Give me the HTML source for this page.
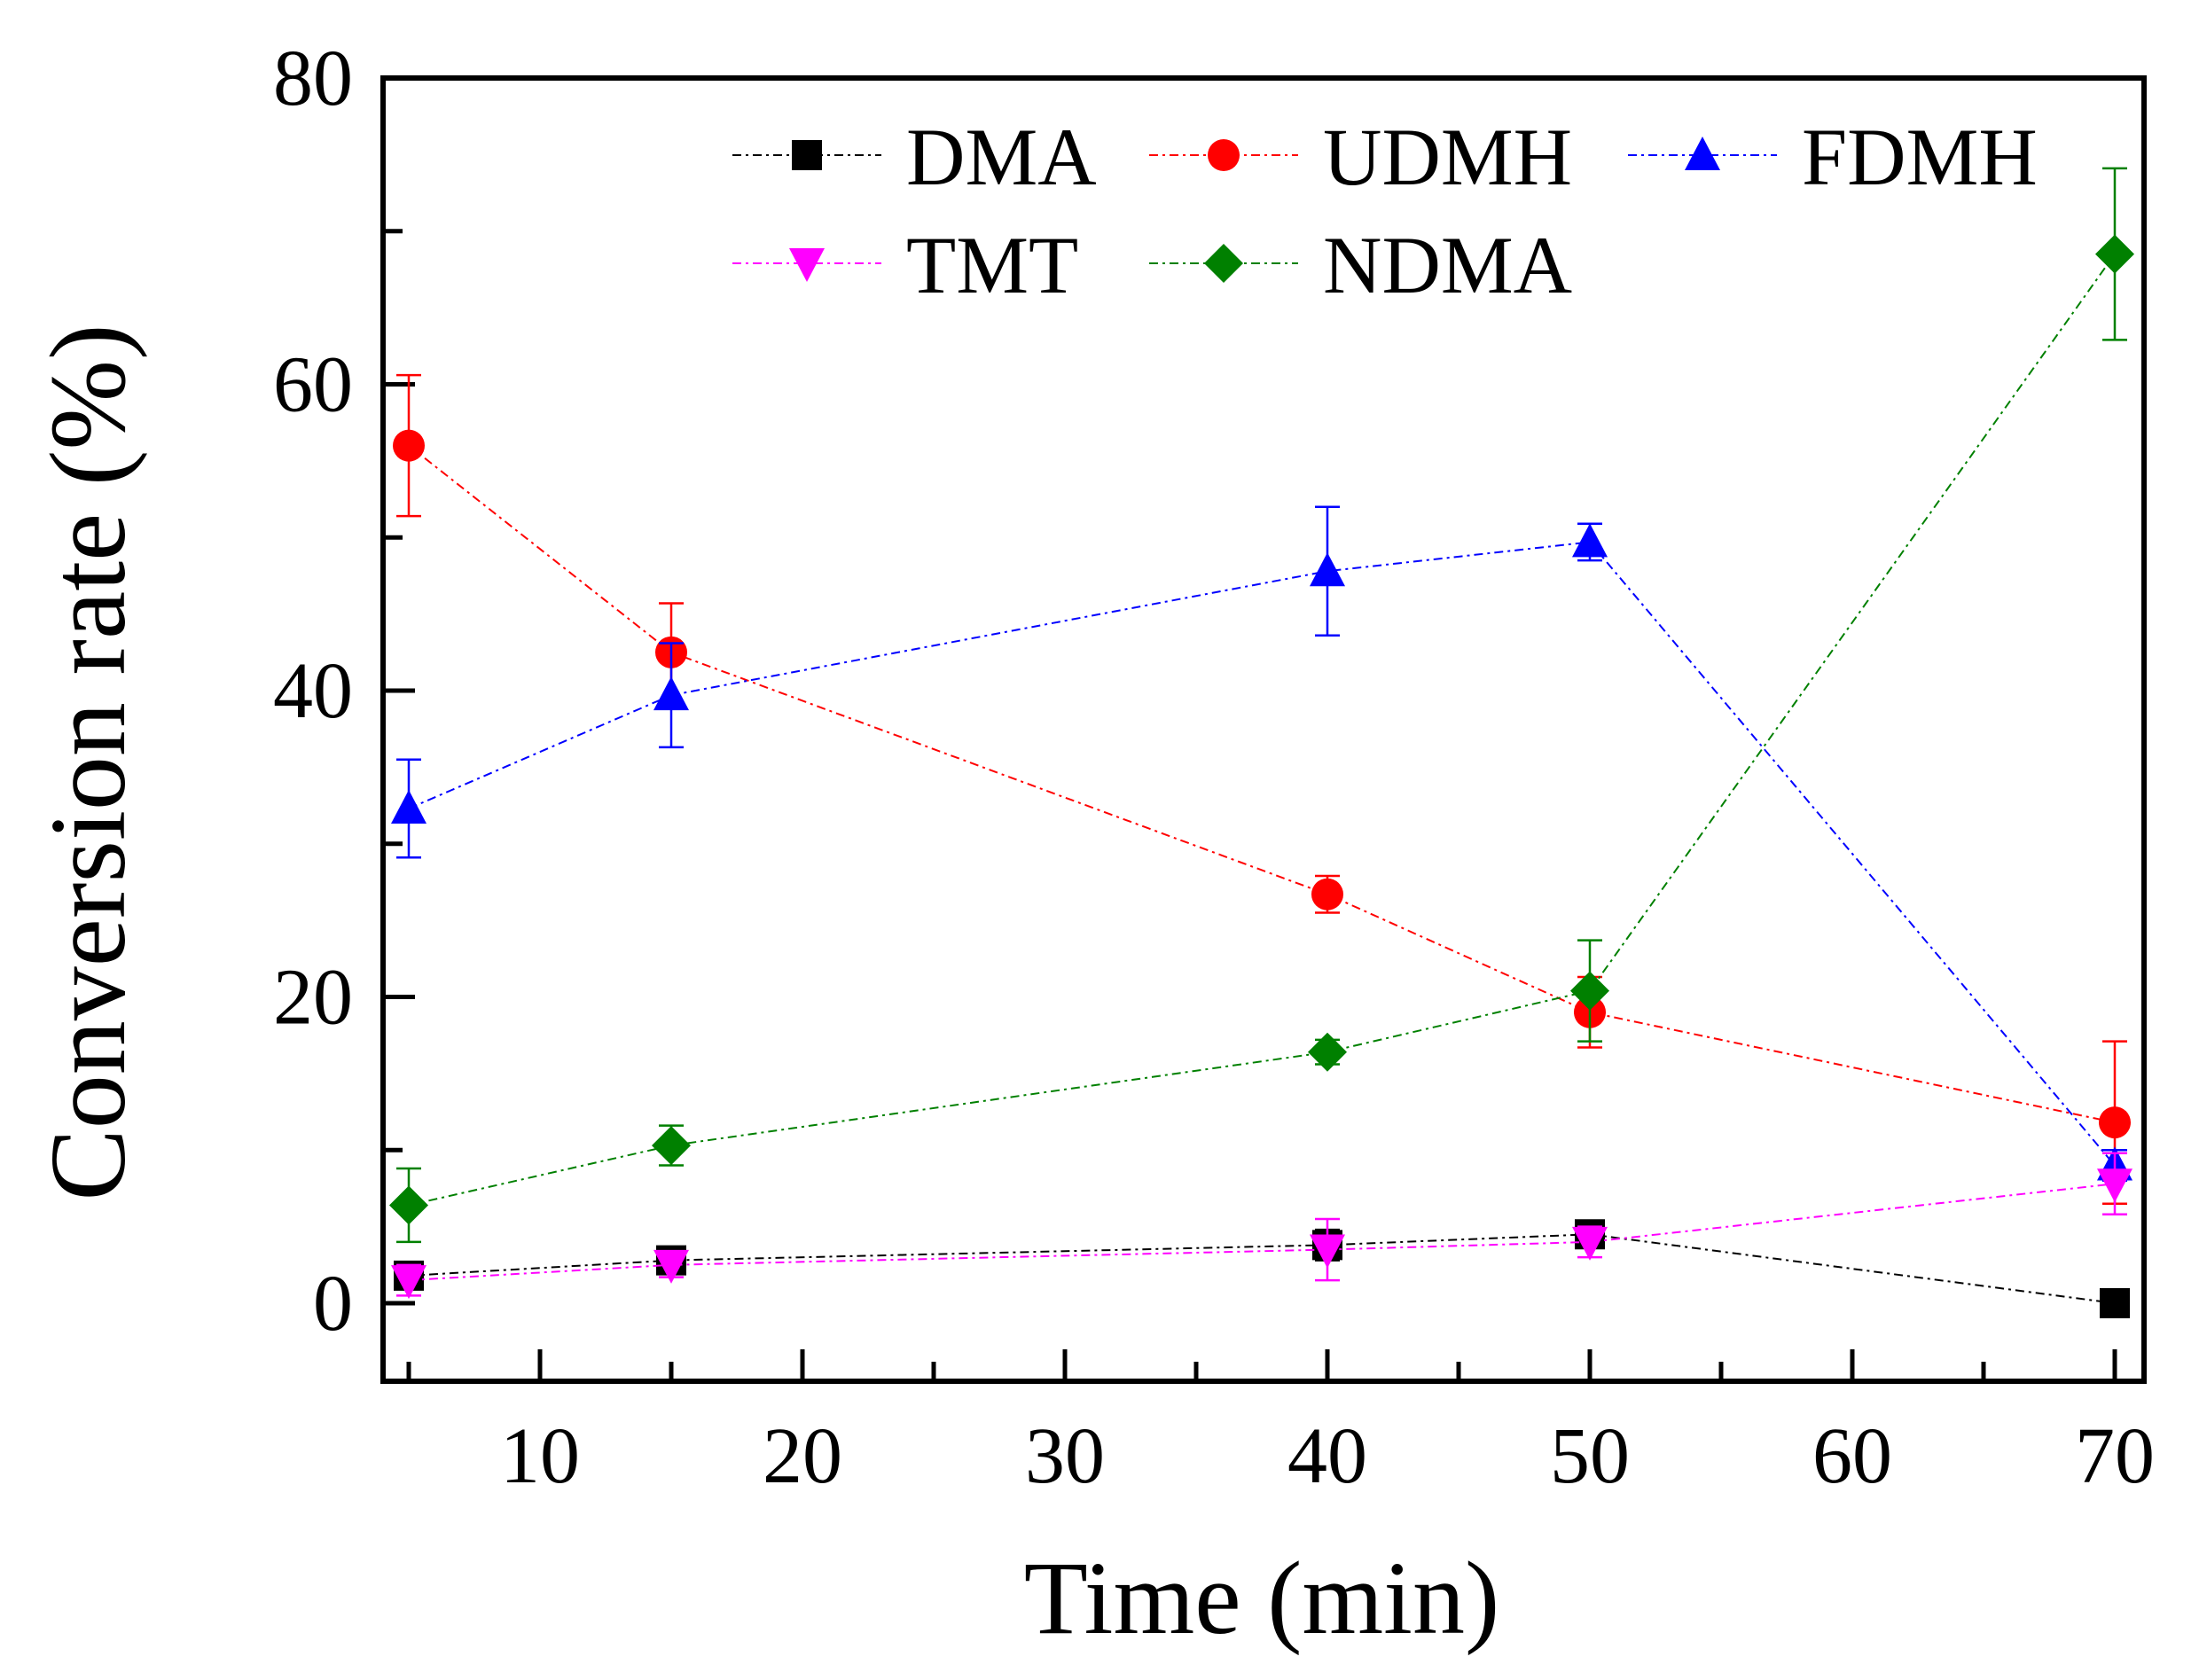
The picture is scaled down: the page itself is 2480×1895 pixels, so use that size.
<!DOCTYPE html>
<html><head><meta charset="utf-8"><style>
html,body{margin:0;padding:0;background:#fff;}
svg{display:block;font-family:"Liberation Serif",serif;}
</style></head><body>
<svg id="chart" width="2480" height="1895" viewBox="0 0 2480 1895"></svg>
<script>
const times=[5,15,40,50,70];
const dma=[1.8,2.8,3.8,4.5,0];
const dmaErr=[0.8,0.8,1,0.8,0.3];
const udmh=[56,42.5,26.7,19,11.8];
const udmhErr=[4.6,3.2,1.2,2.3,5.3];
const fdmh=[32.3,39.7,47.8,49.7,9];
const fdmhErr=[3.2,3.4,4.2,1.2,1];
const tmt=[1.5,2.5,3.5,4,7.8];
const tmtErr=[1,0.8,2,1,2];
const ndma=[6.4,10.3,16.4,20.4,68.5];
const ndmaErr=[2.4,1.3,0.8,3.3,5.6];
const xTicks=[10,20,30,40,50,60,70];
const yTicks=[0,20,40,60,80];

const NS="http://www.w3.org/2000/svg";
const svg=document.getElementById('chart');
const L=432,R=2418,T=88,B=1558;
const X=v=>609+(v-10)*29.6;
const Y=v=>1470-v*(1470-88)/80;
function mk(tag,attrs,parent){const e=document.createElementNS(NS,tag);for(const k in attrs)e.setAttribute(k,attrs[k]);(parent||svg).appendChild(e);return e;}

const frame=mk('rect',{x:L,y:T,width:R-L,height:B-T,fill:'none',stroke:'#000','stroke-width':6});



for(let v=5;v<=70;v+=5){
  const major=v%10===0;
  const t=mk('line',{x1:X(v),x2:X(v),y1:B,y2:B-(major?36:22),stroke:'#000','stroke-width':5});
  
  
}
xTicks.forEach(v=>{
  const t=mk('text',{x:X(v),y:1672,'font-size':90,'text-anchor':'middle'});
  t.textContent=v;
  
  
});
for(let v=-10;v<=80;v+=10){
  const major=v%20===0;
  if(Y(v)>B)continue;
  const t=mk('line',{x1:L,x2:L+(major?36:22),y1:Y(v),y2:Y(v),stroke:'#000','stroke-width':5});
  
  
}
yTicks.forEach(v=>{
  const t=mk('text',{x:398,y:Y(v)+30,'font-size':90,'text-anchor':'end'});
  t.textContent=v;
  
  
});
const xt=mk('text',{x:1423,y:1842,'font-size':118,'text-anchor':'middle'});
xt.textContent='Time (min)';


const yt=mk('text',{x:0,y:0,'font-size':122,'text-anchor':'middle',transform:'translate(140,860) rotate(-90)'});
yt.textContent='Conversion rate (%)';



function marker(shape,color,cx,cy,g){
  const s=17;
  let e;
  if(shape==='square')e=mk('rect',{x:cx-s,y:cy-s,width:2*s,height:2*s,fill:color},g);
  else if(shape==='circle')e=mk('circle',{cx:cx,cy:cy,r:s+1,fill:color},g);
  else if(shape==='up')e=mk('polygon',{points:`${cx},${cy-s-4} ${cx-s-3},${cy+s} ${cx+s+3},${cy+s}`,fill:color},g);
  else if(shape==='down')e=mk('polygon',{points:`${cx},${cy+s+4} ${cx-s-3},${cy-s} ${cx+s+3},${cy-s}`,fill:color},g);
  else e=mk('polygon',{points:`${cx},${cy-s-5} ${cx+s+5},${cy} ${cx},${cy+s+5} ${cx-s-5},${cy}`,fill:color},g);
  return e;
}
const series=[
 {name:'DMA',vals:dma,err:dmaErr,color:'#000000',shape:'square'},
 {name:'UDMH',vals:udmh,err:udmhErr,color:'#ff0000',shape:'circle'},
 {name:'FDMH',vals:fdmh,err:fdmhErr,color:'#0000ff',shape:'up'},
 {name:'NDMA',vals:ndma,err:ndmaErr,color:'#008000',shape:'diamond'},
 {name:'TMT',vals:tmt,err:tmtErr,color:'#ff00ff',shape:'down'}
];
series.forEach(s=>{
  const g=mk('g',{});
  
  
  const pts=times.map((t,i)=>X(t)+','+Y(s.vals[i])).join(' ');
  const ln=mk('polyline',{points:pts,fill:'none',stroke:s.color,'stroke-width':2,'stroke-dasharray':'10,5,3,5'},g);
  
  
  times.forEach((t,i)=>{
    const x=X(t),y1=Y(s.vals[i]+s.err[i]),y2=Y(s.vals[i]-s.err[i]);
    const eb=mk('path',{d:`M${x},${y1}V${y2}M${x-14},${y1}H${x+14}M${x-14},${y2}H${x+14}`,stroke:s.color,'stroke-width':2.5,fill:'none'},g);
    
    
    const m=marker(s.shape,s.color,x,Y(s.vals[i]),g);
    
    
  });
});
const legend=[
 {s:0,x:826,y:175},{s:1,x:1296,y:175},{s:2,x:1836,y:175},
 {s:4,x:826,y:297},{s:3,x:1296,y:297}
];
legend.forEach(l=>{
  const s=series[l.s];
  const g=mk('g',{});
  
  
  mk('line',{x1:l.x,x2:l.x+168,y1:l.y,y2:l.y,stroke:s.color,'stroke-width':2,'stroke-dasharray':'10,5,3,5'},g);
  marker(s.shape,s.color,l.x+84,l.y,g);
  const t=mk('text',{x:l.x+196,y:l.y+33,'font-size':92},g);
  t.textContent=s.name;
});
</script>
</body></html>
